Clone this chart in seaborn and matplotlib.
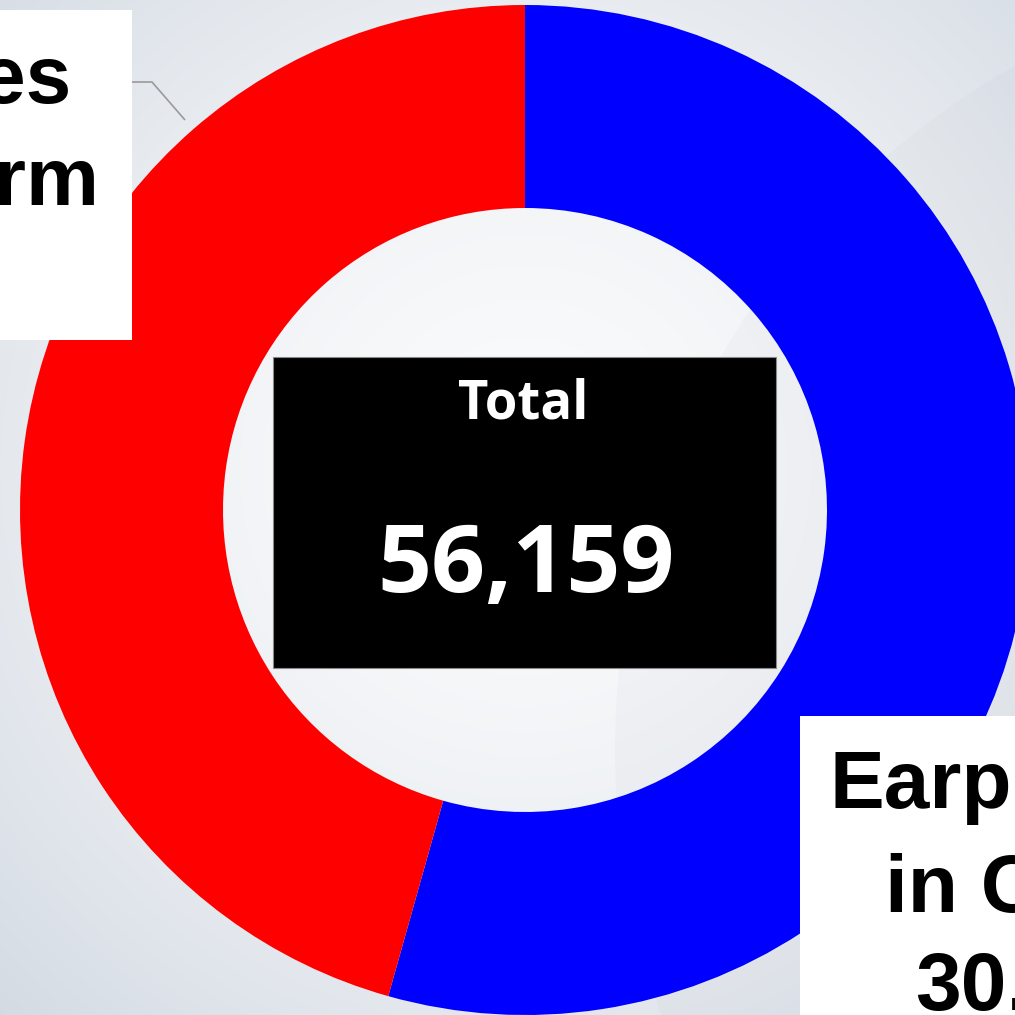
import numpy as np
import matplotlib
matplotlib.use("Agg")
import matplotlib.pyplot as plt
import seaborn as sns
from matplotlib.patches import Rectangle, Circle

# ---- data ----
categories = ["Earphones in Cable", "Earphones on Platform"]
values = [30530, 25629]
colors = ["#0000ff", "#ff0000"]
total_label = "Total"
total_value = f"{sum(values):,}"

sns.set_theme(style="white")
plt.rcParams["font.family"] = ["Liberation Sans", "DejaVu Sans"]

W = 1015
fig = plt.figure(figsize=(10.15, 10.15), dpi=100)
ax = fig.add_axes([0, 0, 1, 1])

def Y(y):
    return W - y

# background radial gradient
yy, xx = np.mgrid[0:W, 0:W]
r = np.sqrt((xx - 525) ** 2 + (yy - 470) ** 2) / 780.0
r = np.clip(r, 0, 1)
c0 = np.array([0xfa, 0xfb, 0xfc]) / 255.0
c1 = np.array([0xd2, 0xd9, 0xe2]) / 255.0
t = r[..., None] ** 1.6
img = c0 * (1 - t) + c1 * t
ax.imshow(img, extent=(0, W, 0, W), origin="upper", zorder=0, interpolation="bilinear")

# faint large decorative circle
ax.add_patch(Circle((1400, Y(750)), 785, facecolor="#8a93a6", alpha=0.045,
                    edgecolor="none", zorder=0.5))

# donut
wedges, _ = ax.pie(values, colors=colors, startangle=90, counterclock=False,
                   center=(525, Y(510)), radius=505,
                   wedgeprops=dict(width=203, edgecolor="none", antialiased=True))
for w_ in wedges:
    w_.set_zorder(1)

ax.set_xlim(0, W)
ax.set_ylim(0, W)
ax.set_aspect("equal")
ax.axis("off")

# center box
ax.add_patch(Rectangle((273, Y(668)), 776 - 273, 668 - 357, facecolor="black",
                       edgecolor="#8a8a8a", linewidth=0.8, zorder=2))
ax.text(523, Y(418), total_label, color="white", fontsize=38, fontweight="bold",
        family=["Open Sans", "DejaVu Sans"], ha="center", va="baseline", zorder=3)
ax.text(526, Y(592), total_value, color="white", fontsize=68, fontweight="bold",
        family=["Open Sans", "DejaVu Sans"], ha="center", va="baseline", zorder=3)

# leader line for red label
ax.plot([132, 152, 185], [Y(82), Y(82), Y(120)], color="#9a9a9a", lw=1.2,
        zorder=1.5, solid_capstyle="butt")

# red label box (cut at left edge)
ax.add_patch(Rectangle((-300, Y(340)), 432, 330, facecolor="white",
                       edgecolor="none", zorder=2))
red_lines = ["Earphones", "on Platform"]
for txt, xe, yb in zip(red_lines, [72, 99], [103, 205]):
    ax.text(xe, Y(yb), txt, color="black", fontsize=59, fontweight="bold",
            ha="right", va="baseline", zorder=3, clip_on=True)

# blue label box (cut at right/bottom edges)
ax.add_patch(Rectangle((800, Y(1300)), 600, 1300 - 716, facecolor="white",
                       edgecolor="none", zorder=2))
blue_lines = ["Earphones", "in Cable", f"{values[0]:,}"]
for txt, xs, yb in zip(blue_lines, [830, 885, 915], [808, 912, 1009]):
    ax.text(xs, Y(yb), txt, color="black", fontsize=59, fontweight="bold",
            ha="left", va="baseline", zorder=3, clip_on=True)

fig.savefig("out.png", dpi=100)
